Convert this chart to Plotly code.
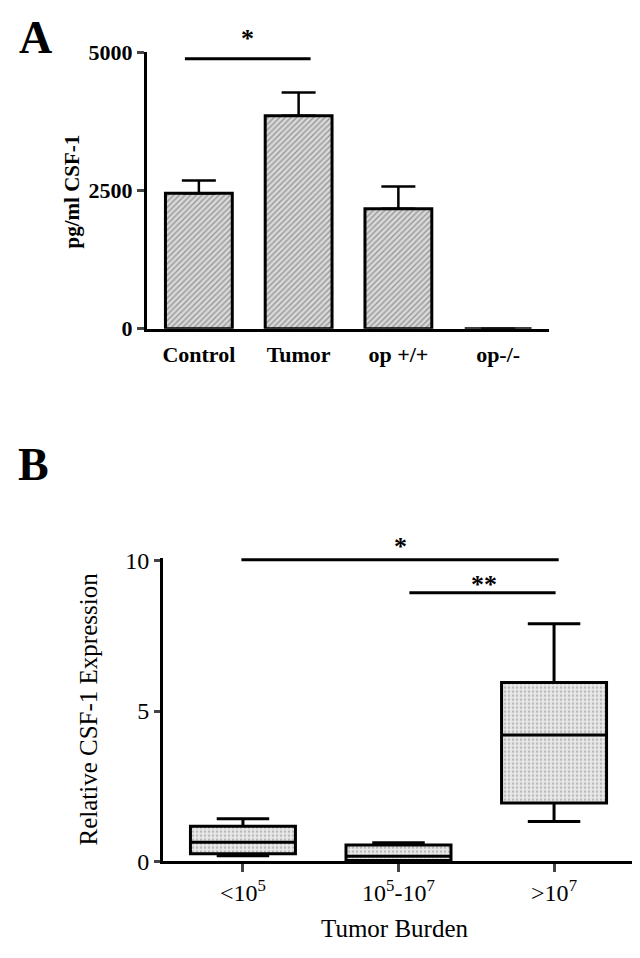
import plotly.graph_objects as go

# Panel A: CSF-1 serum level (mean + SEM)
groups_a = ["Control", "Tumor", "op +/+", "op-/-"]
means_a = [2450, 3850, 2170, 0]
sem_a = [230, 420, 400, 0]
yticks_a = [0, 2500, 5000]

# Panel B: relative CSF-1 expression by tumor burden (box summary)
groups_b = ["&lt;10<sup>5</sup>", "10<sup>5</sup>-10<sup>7</sup>", "&gt;10<sup>7</sup>"]
low_b = [0.19, 0.0, 1.33]
q1_b = [0.26, 0.03, 1.94]
med_b = [0.64, 0.17, 4.2]
q3_b = [1.17, 0.55, 5.95]
high_b = [1.42, 0.62, 7.9]
yticks_b = [0, 5, 10]

SERIF = "Liberation Serif, Times New Roman, serif"
W, H, OFF = 640, 958, 8  # page draws the figure 8px in from the corner


def px(x):
    return (x - OFF) / W


def py(y):
    return 1 - (y - OFF) / H


fig = go.Figure()

fig.add_trace(go.Bar(
    x=groups_a, y=means_a, width=0.67,
    marker=dict(color="#d6d6d6",
                line=dict(color="black", width=3),
                pattern=dict(shape="/", fgcolor="#555555", bgcolor="#d9d9d9",
                             size=4, solidity=0.35)),
    error_y=dict(type="data", array=sem_a, arrayminus=[0] * len(sem_a),
                 symmetric=False, color="black", thickness=2.5, width=17),
    xaxis="x", yaxis="y", showlegend=False,
))

# dotted fill under the boxes
fig.add_trace(go.Bar(
    x=groups_b, y=[b - a for a, b in zip(q1_b, q3_b)], base=q1_b, width=0.675,
    marker=dict(color="#e4e4e4", line=dict(width=0),
                pattern=dict(shape=".", fgcolor="#8a8a8a", bgcolor="#e8e8e8",
                             size=4, solidity=0.3)),
    xaxis="x2", yaxis="y2", showlegend=False,
))
fig.add_trace(go.Box(
    x=groups_b, q1=q1_b, median=med_b, q3=q3_b,
    lowerfence=low_b, upperfence=high_b,
    width=0.675, whiskerwidth=0.5,
    fillcolor="rgba(0,0,0,0)", line=dict(color="black", width=3),
    xaxis="x2", yaxis="y2", showlegend=False,
))

axis_common = dict(showgrid=False, zeroline=False, showline=True,
                   linecolor="black", linewidth=3)

# significance bars
fig.add_shape(type="line", xref="x", yref="y", x0=-0.14, x1=1.12, y0=4880, y1=4880,
              line=dict(color="black", width=3))
fig.add_shape(type="line", xref="x2", yref="y2", x0=-0.01, x1=2.03, y0=10.03, y1=10.03,
              line=dict(color="black", width=3))
fig.add_shape(type="line", xref="x2", yref="y2", x0=1.07, x1=2.01, y0=8.93, y1=8.93,
              line=dict(color="black", width=3))

star_font = dict(family=SERIF, size=26, color="black")
fig.add_annotation(xref="x", yref="y", x=0.49, y=5000, yshift=14, text="<b>*</b>",
                   showarrow=False, font=star_font, yanchor="middle")
fig.add_annotation(xref="x2", yref="y2", x=1.01, y=10.03, yshift=13, text="<b>*</b>",
                   showarrow=False, font=star_font, yanchor="middle")
fig.add_annotation(xref="x2", yref="y2", x=1.55, y=8.93, yshift=8, text="<b>**</b>",
                   showarrow=False, font=star_font, yanchor="middle")


# panel letters and axis titles
def label(x, y, text, size, angle=0):
    fig.add_annotation(xref="paper", yref="paper", x=px(x), y=py(y), text=text,
                       xanchor="center", yanchor="middle", textangle=angle,
                       showarrow=False, font=dict(family=SERIF, size=size, color="black"))


label(35, 26, "<b>A</b>", 46)
label(33, 464, "<b>B</b>", 46)
label(72, 184, "<b>pg/ml CSF-1</b>", 21, -90)
label(89, 716, "Relative CSF-1 Expression", 25, -90)
label(395, 941, "Tumor Burden", 25)

fig.update_layout(
    width=W, height=H,
    margin=dict(l=0, r=0, t=0, b=0),
    paper_bgcolor="white", plot_bgcolor="white",
    font=dict(family=SERIF, color="black"),
    xaxis=dict(axis_common, domain=[px(147), px(549)], range=[-0.52, 3.51],
               type="category", ticks="", anchor="y",
               tickfont=dict(family=SERIF, size=22), ticklabelstandoff=4,
               tickvals=groups_a, ticktext=["<b>%s</b>" % g for g in groups_a]),
    yaxis=dict(axis_common, domain=[py(325), py(41)], range=[0, 5000],
               anchor="x", ticks="outside", ticklen=7, tickwidth=3,
               tickvals=yticks_a, ticktext=["<b>%d</b>" % v for v in yticks_a],
               tickfont=dict(family=SERIF, size=22)),
    xaxis2=dict(axis_common, domain=[px(163), px(634)], range=[-0.514, 2.514],
                type="category", anchor="y2", ticks="outside", ticklen=8, tickwidth=3,
                tickfont=dict(family=SERIF, size=24)),
    yaxis2=dict(axis_common, domain=[py(872), py(560)], range=[0, 10.1],
                anchor="x2", ticks="outside", ticklen=6, tickwidth=3,
                tickvals=yticks_b, tickfont=dict(family=SERIF, size=24)),
)

fig.write_html("out.html")
